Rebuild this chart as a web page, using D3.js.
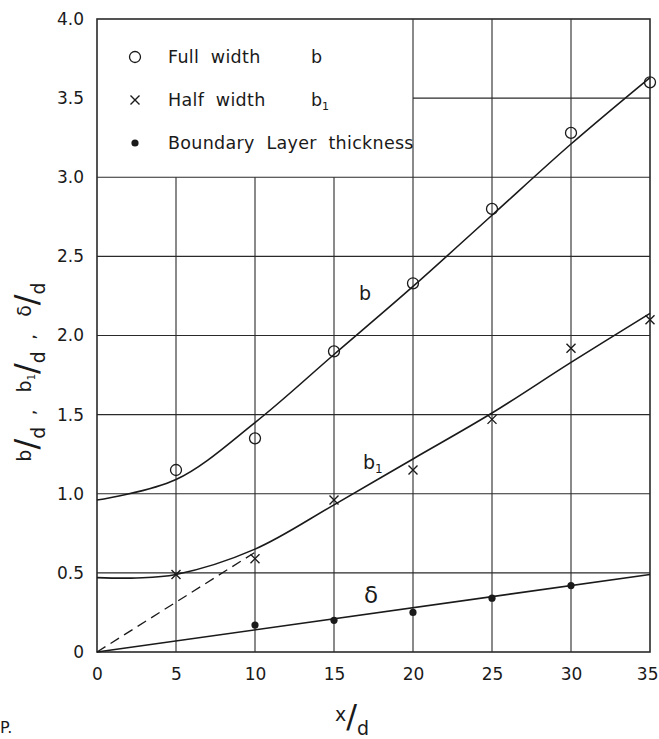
<!DOCTYPE html>
<html>
<head>
<meta charset="utf-8">
<script src="https://cdn.jsdelivr.net/npm/d3@7"></script>
<style>
  html, body { margin: 0; padding: 0; background: #fff; }
  svg { display: block; }
  text { font-family: "DejaVu Sans", "Noto Sans", sans-serif; fill: #1a1a1a; }
</style>
</head>
<body>
<svg id="chart" width="659" height="739"></svg>
<script>
// Axis ticks
const xTicks = [0, 5, 10, 15, 20, 25, 30, 35];
const yTicks = [0, 0.5, 1.0, 1.5, 2.0, 2.5, 3.0, 3.5, 4.0];
const yTickLabels = ["0", "0.5", "1.0", "1.5", "2.0", "2.5", "3.0", "3.5", "4.0"];

// Measured points: full width b/d (circles)
const fullX = [5, 10, 15, 20, 25, 30, 35];
const fullB = [1.15, 1.35, 1.90, 2.33, 2.80, 3.28, 3.60];

// Measured points: half width b1/d (crosses)
const halfX = [5, 10, 15, 20, 25, 30, 35];
const halfB1 = [0.49, 0.59, 0.96, 1.15, 1.47, 1.92, 2.10];

// Measured points: boundary layer thickness δ/d (dots)
const layerX = [10, 15, 20, 25, 30];
const layerDelta = [0.17, 0.20, 0.25, 0.34, 0.42];

// Faired curves
const bCurveX = [0, 5, 10, 15, 20, 25, 30, 35];
const bCurveY = [0.96, 1.09, 1.45, 1.88, 2.31, 2.76, 3.21, 3.63];
const b1CurveX = [0, 2.5, 5, 10, 15, 20, 25, 30, 35];
const b1CurveY = [0.47, 0.468, 0.49, 0.65, 0.93, 1.22, 1.51, 1.83, 2.14];
const deltaLineX = [0, 35];
const deltaLineY = [0, 0.49];
const dashLineX = [0, 10];
const dashLineY = [0, 0.63];

const svg = d3.select("#chart");
const x = d3.scaleLinear().domain([0, 35]).range([97, 650]);
const y = d3.scaleLinear().domain([0, 4]).range([652, 19]);

const ink = "#1a1a1a";

// Grid: the legend occupies x 0–20, y 3–4, so lines stop at its edge
const grid = svg.append("g").attr("stroke", "#2a2a2a").attr("stroke-width", 1.1);
xTicks.filter(v => v > 0 && v < 35).forEach(v => {
  grid.append("line")
    .attr("x1", x(v)).attr("x2", x(v))
    .attr("y1", y(0)).attr("y2", y(v <= 15 ? 3.0 : 4.0));
});
yTicks.filter(v => v > 0 && v < 4).forEach(v => {
  grid.append("line")
    .attr("x1", x(v > 3.0 ? 20 : 0)).attr("x2", x(35))
    .attr("y1", y(v)).attr("y2", y(v));
});

// Frame
svg.append("rect")
  .attr("x", x(0)).attr("y", y(4))
  .attr("width", x(35) - x(0)).attr("height", y(0) - y(4))
  .attr("fill", "none").attr("stroke", "#2a2a2a").attr("stroke-width", 1.6);

// Tick labels via axis generators (domain and tick lines hidden)
const xAxis = svg.append("g")
  .attr("transform", `translate(0,${y(0)})`)
  .call(d3.axisBottom(x).tickValues(xTicks).tickSize(0).tickPadding(16).tickFormat(d3.format("d")));
const yAxis = svg.append("g")
  .attr("transform", `translate(${x(0)},0)`)
  .call(d3.axisLeft(y).tickValues(yTicks).tickSize(0).tickPadding(13)
    .tickFormat((d, i) => yTickLabels[i]));
[xAxis, yAxis].forEach(a => {
  a.select(".domain").remove();
  a.selectAll("text").attr("font-size", 17).attr("fill", ink)
    .attr("font-family", "DejaVu Sans, sans-serif");
});
// keep the last x label inside the page edge
xAxis.selectAll(".tick").filter(d => d === 35).select("text")
  .attr("text-anchor", "end").attr("x", 658 - x(35));

const line = d3.line().x(d => x(d[0])).y(d => y(d[1]));

// Fitted curves
svg.append("path")
  .datum(d3.zip(bCurveX, bCurveY))
  .attr("d", line.curve(d3.curveCatmullRom.alpha(0.5)))
  .attr("fill", "none").attr("stroke", ink).attr("stroke-width", 1.6);
svg.append("path")
  .datum(d3.zip(b1CurveX, b1CurveY))
  .attr("d", line.curve(d3.curveCatmullRom.alpha(0.5)))
  .attr("fill", "none").attr("stroke", ink).attr("stroke-width", 1.6);
svg.append("path")
  .datum(d3.zip(deltaLineX, deltaLineY))
  .attr("d", line.curve(d3.curveLinear))
  .attr("fill", "none").attr("stroke", ink).attr("stroke-width", 1.6);
svg.append("path")
  .datum(d3.zip(dashLineX, dashLineY))
  .attr("d", line.curve(d3.curveLinear))
  .attr("fill", "none").attr("stroke", ink).attr("stroke-width", 1.3)
  .attr("stroke-dasharray", "10,6");

// Markers
function circleMark(g, cx, cy) {
  g.append("circle").attr("cx", cx).attr("cy", cy).attr("r", 5.5)
    .attr("fill", "none").attr("stroke", ink).attr("stroke-width", 1.3);
}
function crossMark(g, cx, cy) {
  const s = 4.5;
  g.append("path")
    .attr("d", `M${cx - s},${cy - s}L${cx + s},${cy + s}M${cx - s},${cy + s}L${cx + s},${cy - s}`)
    .attr("stroke", ink).attr("stroke-width", 1.4);
}
function dotMark(g, cx, cy) {
  g.append("circle").attr("cx", cx).attr("cy", cy).attr("r", 3.6).attr("fill", ink);
}

const marks = svg.append("g");
fullX.forEach((v, i) => circleMark(marks, x(v), y(fullB[i])));
halfX.forEach((v, i) => crossMark(marks, x(v), y(halfB1[i])));
layerX.forEach((v, i) => dotMark(marks, x(v), y(layerDelta[i])));

// Curve labels
svg.append("text").attr("x", 359).attr("y", 300).attr("font-size", 19).text("b");
const b1Lab = svg.append("text").attr("x", 363).attr("y", 469).attr("font-size", 19);
b1Lab.append("tspan").text("b");
b1Lab.append("tspan").attr("font-size", 12).attr("dy", 4).text("1");
svg.append("text").attr("x", 364).attr("y", 603).attr("font-size", 23).text("δ");

// Legend
const legend = svg.append("g");
const legendRows = [
  { y: 57, label: "Full  width", sym: "b", sub: null, mark: circleMark },
  { y: 100, label: "Half  width", sym: "b", sub: "1", mark: crossMark },
  { y: 143, label: "Boundary  Layer  thickness", sym: null, sub: null, mark: dotMark }
];
legendRows.forEach(r => {
  r.mark(legend, 135, r.y);
  legend.append("text").attr("x", 168).attr("y", r.y + 6).attr("font-size", 17.5)
    .attr("letter-spacing", 0.3).style("white-space", "pre").text(r.label);
  if (r.sym) {
    const t = legend.append("text").attr("x", 311).attr("y", r.y + 6).attr("font-size", 17.5);
    t.append("tspan").text(r.sym);
    if (r.sub) t.append("tspan").attr("font-size", 11).attr("dy", 4).text(r.sub);
  }
});

// Slanted-fraction axis titles
function fraction(parts) {
  const t = [];
  parts.forEach((p, i) => {
    if (i > 0) t.push({ s: "  ,   ", dy: -2, fs: 18 });
    t.push({ s: p.num, dy: -6, fs: 19 });
    if (p.sub) t.push({ s: p.sub, dy: -2, fs: 10 });
    t.push({ s: "/", dy: 0, fs: 32 });
    t.push({ s: p.den, dy: 8, fs: 19 });
  });
  return t;
}
function drawTitle(g, pieces) {
  const text = g.append("text").attr("text-anchor", "middle").style("white-space", "pre");
  let cur = 0;
  pieces.forEach(p => {
    text.append("tspan").attr("dy", p.dy - cur).attr("font-size", p.fs).text(p.s);
    cur = p.dy;
  });
}

const yTitle = svg.append("g").attr("transform", "translate(37,372) rotate(-90)");
drawTitle(yTitle, fraction([
  { num: "b", den: "d" },
  { num: "b", sub: "1", den: "d" },
  { num: "δ", den: "d" }
]));

const xTitle = svg.append("g").attr("transform", "translate(352,727)");
drawTitle(xTitle, fraction([{ num: "x", den: "d" }]));

// Caption fragment at the lower-left edge
svg.append("text").attr("x", 0).attr("y", 733).attr("font-size", 16).text("P.");
</script>
</body>
</html>
